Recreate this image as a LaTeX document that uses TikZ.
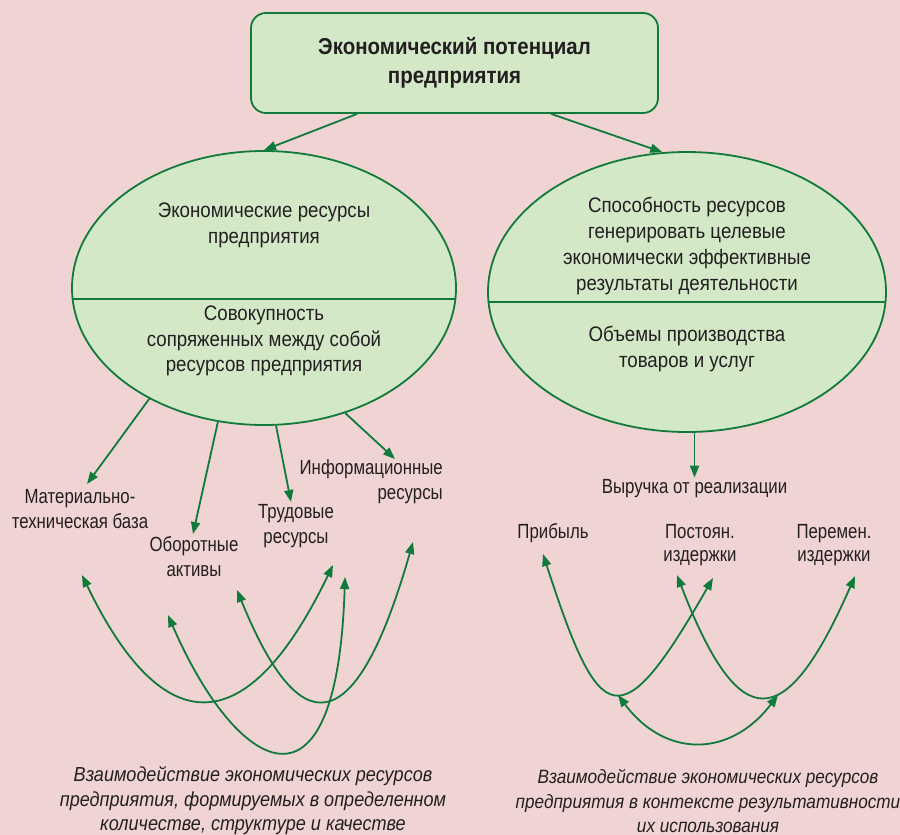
\documentclass[tikz,border=0pt]{standalone}
\usepackage{fontspec}
\setmainfont[FakeStretch=0.82]{Liberation Sans}
\newfontfamily\wfont[FakeStretch=0.89]{Liberation Sans}
\usetikzlibrary{arrows.meta,shapes.geometric,calc}
\definecolor{bg}{RGB}{240,212,212}
\definecolor{fillg}{RGB}{211,232,199}
\definecolor{lineg}{RGB}{16,122,58}
\definecolor{txt}{RGB}{35,31,32}
\begin{document}
\begin{tikzpicture}[x=1pt,y=-1pt,
  gtip/.tip={Triangle[length=12pt,width=9pt]},
  conn/.style={draw=lineg,line width=1.8pt,-gtip},
  dconn/.style={draw=lineg,line width=1.8pt,gtip-gtip},
  lbl/.style={text=txt,font=\fontsize{20.5}{25}\selectfont,align=center,inner sep=0pt},
  elbl/.style={text=txt,font=\wfont\fontsize{21}{25.7}\selectfont,align=center,inner sep=0pt},
  tlbl/.style={text=txt,font=\fontsize{20.5}{23}\selectfont,align=center,inner sep=0pt},
  captxt/.style={text=txt,font=\wfont\fontsize{20.3}{24.5}\selectfont\itshape,align=center,inner sep=0pt},
  captxtr/.style={text=txt,font=\wfont\fontsize{19.3}{24.5}\selectfont\itshape,align=center,inner sep=0pt},
  oval/.style={ellipse,draw=lineg,fill=fillg,line width=1.8pt,inner sep=0pt},
  div/.style={draw=lineg,line width=1.8pt}]
\fill[bg] (0,0) rectangle (900,835);
\useasboundingbox (0,0) rectangle (900,835);

% top box
\node[draw=lineg,fill=fillg,line width=1.8pt,rounded corners=15pt,
  minimum width=407pt,minimum height=100pt,inner sep=0pt,
  text=txt,font=\wfont\fontsize{23}{30}\selectfont\bfseries,align=center] (top) at (454.5,63)
  {\raisebox{1.5pt}{\begin{tabular}{@{}c@{}}Экономический потенциал\\[-0.5pt]предприятия\end{tabular}}};

% ellipses
\node[oval,minimum width=384pt,minimum height=274pt] (L) at (264,288) {};
\node[oval,minimum width=398pt,minimum height=280pt] (R) at (687,292) {};
\draw[div] ($(L.center)+(-191.4,11)$) -- ($(L.center)+(191.4,11)$);
\draw[div] ($(R.center)+(-198.5,10)$) -- ($(R.center)+(198.5,10)$);

\node[elbl] (Lup) at (264,225) {Экономические ресурсы\\предприятия};
\node[elbl] (Llow) at (264,341) {Совокупность\\сопряженных между собой\\ресурсов предприятия};
\node[elbl] (Rup) at (687,246) {Способность ресурсов\\генерировать целевые\\экономически эффективные\\результаты деятельности};
\node[elbl] (Rlow) at (687,349) {Объемы производства\\товаров и услуг};

\draw[conn] ($(top.south west)+(107,0)$) -- (L.north);
\draw[conn] ($(top.south west)+(301,0)$) -- (R.100);

% left labels
\node[lbl] (mat) at (80,509) {Материально-\\техническая база};
\node[lbl] (obor) at (194,557) {Оборотные\\активы};
\node[lbl] (trud) at (296,526) {Трудовые\\ресурсы};
\node[lbl,align=right,anchor=east] (info) at (443,482) {Информационные\\ресурсы};

\coordinate (matT) at (87,484);
\coordinate (oborT) at (193,534);
\coordinate (trudT) at (291,502);
\coordinate (infoT) at (395,459);
\draw[conn] (L.224) -- (matT);
\draw[conn] (L.251) -- (oborT);
\draw[conn] (L.275.4) -- (trudT);
\draw[conn] (L.303.4) -- (infoT);

% left curves
\coordinate (a1) at (82,575);  \coordinate (a2) at (333,565);
\coordinate (b1) at (168,615); \coordinate (b2) at (345,577);
\coordinate (c1) at (237,590); \coordinate (c2) at (413,542);
\draw[dconn] (a1) .. controls (163,743) and (247,743) .. (a2);
\draw[dconn] (b1) .. controls (235,770) and (337,835) .. (b2);
\draw[dconn] (c1) .. controls (290,720) and (348,769) .. (c2);

% right labels
\node[lbl] (vyr) at (694.5,489) {Выручка от реализации};
\draw[conn] (vyr.north |- R.south) -- ($(vyr.north)+(0,-2)$);
\node[tlbl] (prib) at (553,533) {Прибыль};
\node[tlbl] (post) at (700,545) {Постоян.\\издержки};
\node[tlbl] (perem) at (834,545) {Перемен.\\издержки};

\coordinate (d1) at (543,554); \coordinate (d2) at (713,578);
\coordinate (e1) at (677,575); \coordinate (e2) at (855,576);
\coordinate (f1) at (618,695); \coordinate (f2) at (778,695);
\draw[dconn] (d1) .. controls (600,730) and (620,740) .. (d2);
\draw[dconn] (e1) .. controls (739,736) and (785,736) .. (e2);
\draw[dconn] (f1) .. controls (665,758) and (730,758) .. (f2);

% captions
\node[captxt] (capL) at (253,801) {Взаимодействие экономических ресурсов\\предприятия, формируемых в определенном\\количестве, структуре и качестве};
\node[captxtr] (capR) at (708,801) {Взаимодействие экономических ресурсов\\предприятия в контексте результативности\\их использования};
\end{tikzpicture}
\end{document}
